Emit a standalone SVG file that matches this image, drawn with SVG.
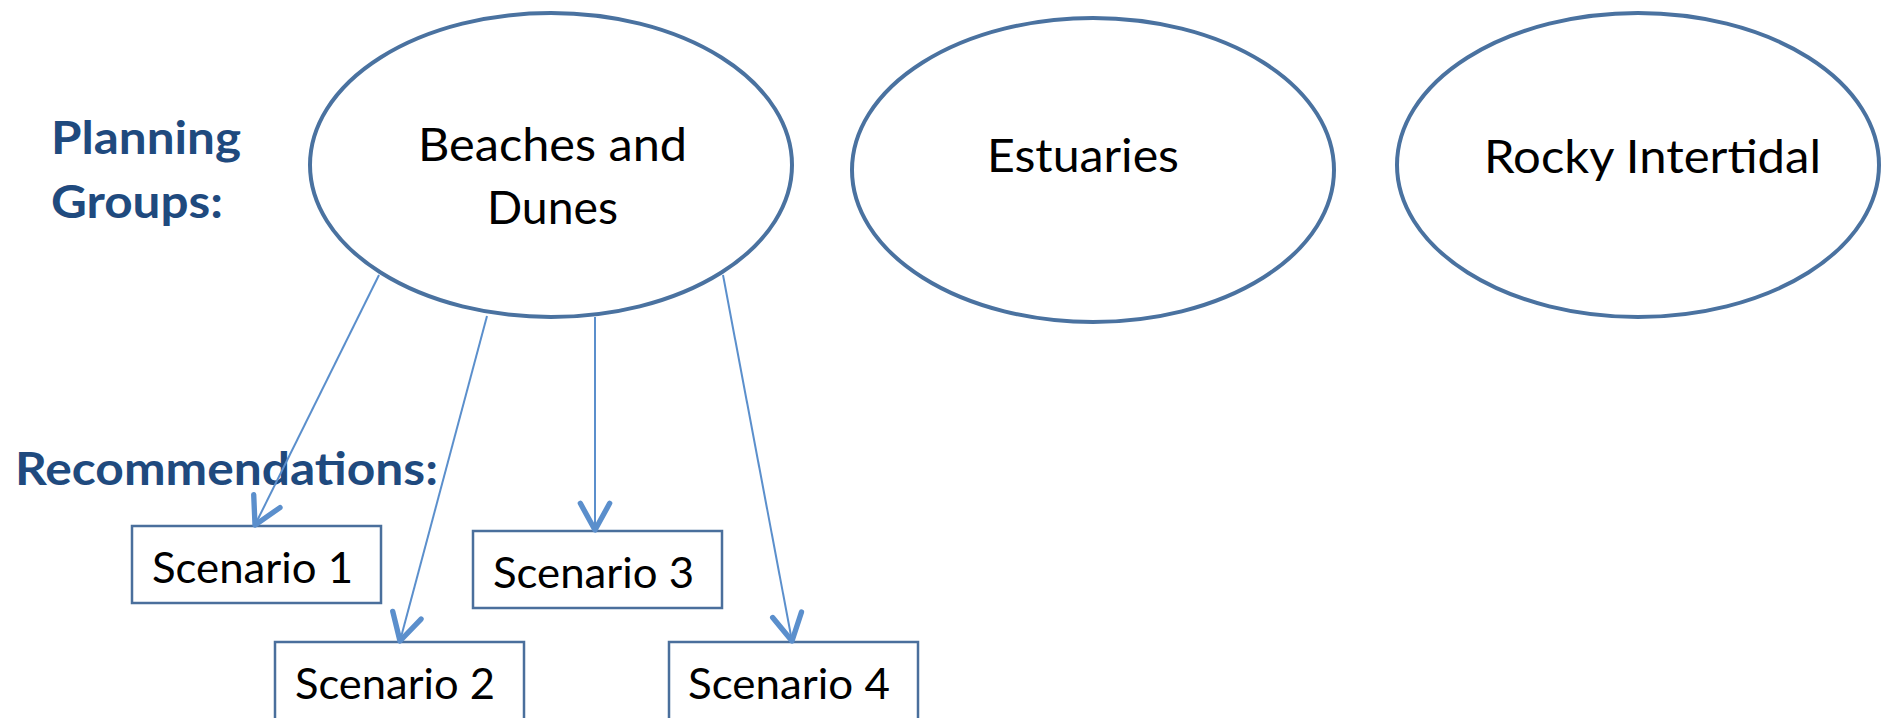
<svg xmlns="http://www.w3.org/2000/svg" width="1883" height="718" viewBox="0 0 1883 718">
<style>
.grp{fill:#fff;stroke:#4A72A0;stroke-width:4}
.box{fill:#fff;stroke:#4A6F9C;stroke-width:2.5}
.lbl{font-family:Lato,"Open Sans","Liberation Sans",sans-serif;fill:#000}
.big{font-size:46px}
.sc{font-size:42px}
.head{font-family:Lato,"Open Sans","Liberation Sans",sans-serif;font-weight:bold;font-size:46px;fill:#1F4A7E}
.con{stroke:#5B8FCC;stroke-width:2;fill:none}
</style>
<defs>
<marker id="arr" markerUnits="userSpaceOnUse" markerWidth="40" markerHeight="40" refX="0" refY="0" orient="auto" viewBox="-25 -15 30 30" overflow="visible">
<path d="M-20,-11 L0,0 L-20,11" fill="none" stroke="#5B8FCC" stroke-width="4" stroke-linecap="round" stroke-linejoin="round"/>
</marker>
</defs>
<rect width="1883" height="718" fill="#fff"/>
<g id="labels">
<text class="head" x="51" y="154" textLength="190" lengthAdjust="spacingAndGlyphs">Planning</text>
<text class="head" x="51" y="218" textLength="172" lengthAdjust="spacingAndGlyphs">Groups:</text>
<text class="head" x="15" y="485" textLength="423" lengthAdjust="spacingAndGlyphs">Recommendations:</text>
</g>
<g id="beaches">
<ellipse class="grp" cx="551" cy="165" rx="241" ry="152"/>
<text class="lbl big" x="418" y="161" textLength="269" lengthAdjust="spacingAndGlyphs">Beaches and</text>
<text class="lbl big" x="487" y="224" textLength="131" lengthAdjust="spacingAndGlyphs">Dunes</text>
</g>
<g id="estuaries">
<ellipse class="grp" cx="1093" cy="170" rx="241" ry="152"/>
<text class="lbl big" x="987" y="172" textLength="192" lengthAdjust="spacingAndGlyphs">Estuaries</text>
</g>
<g id="rocky">
<ellipse class="grp" cx="1638" cy="165" rx="241" ry="152"/>
<text class="lbl big" x="1484" y="173" textLength="337" lengthAdjust="spacingAndGlyphs">Rocky Intertidal</text>
</g>
<g id="scenario1">
<rect class="box" x="132" y="526" width="249" height="77"/>
<text class="lbl sc" x="152" y="583" textLength="201" lengthAdjust="spacingAndGlyphs">Scenario 1</text>
</g>
<g id="scenario2">
<rect class="box" x="275" y="642" width="249" height="90"/>
<text class="lbl sc" x="295" y="699" textLength="200" lengthAdjust="spacingAndGlyphs">Scenario 2</text>
</g>
<g id="scenario3">
<rect class="box" x="473" y="531" width="249" height="77"/>
<text class="lbl sc" x="493" y="588" textLength="201" lengthAdjust="spacingAndGlyphs">Scenario 3</text>
</g>
<g id="scenario4">
<rect class="box" x="669" y="642" width="249" height="90"/>
<text class="lbl sc" x="688" y="699" textLength="202" lengthAdjust="spacingAndGlyphs">Scenario 4</text>
</g>
<g id="connectors">
<line class="con" x1="379" y1="275" x2="255" y2="525" marker-end="url(#arr)"/>
<line class="con" x1="487" y1="316" x2="400" y2="641" marker-end="url(#arr)"/>
<line class="con" x1="595" y1="317" x2="595" y2="530" marker-end="url(#arr)"/>
<line class="con" x1="723" y1="275" x2="792" y2="641" marker-end="url(#arr)"/>
</g>
</svg>
